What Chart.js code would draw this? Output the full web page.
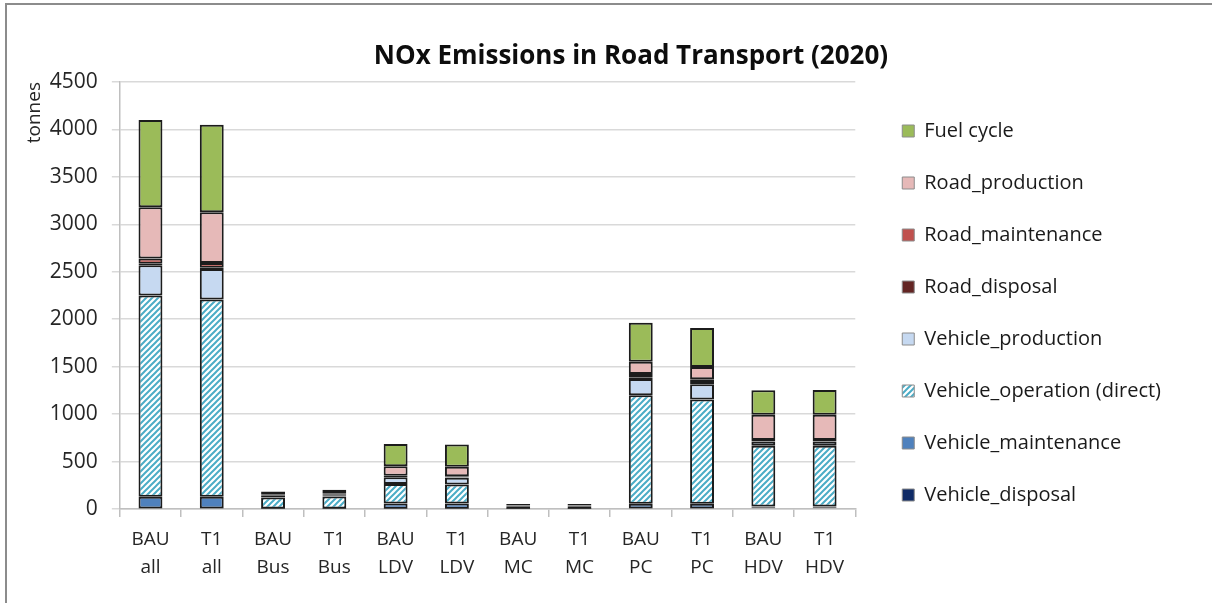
<!DOCTYPE html>
<html>
<head>
<meta charset="utf-8">
<title>NOx Emissions in Road Transport (2020)</title>
<script src="https://cdn.jsdelivr.net/npm/chart.js@4.4.1/dist/chart.umd.min.js"></script>
<style>
  html, body { margin: 0; padding: 0; background: #fff; }
  #wrap { position: relative; width: 1212px; height: 603px; overflow: hidden; }
  #frame {
    position: absolute; left: 5px; top: 3px; right: -4px; bottom: -4px;
    border-left: 2px solid #8c8c8c; border-top: 2px solid #8c8c8c;
    pointer-events: none;
  }
</style>
</head>
<body>
<div id="wrap">
  <canvas id="chart" width="1212" height="603"></canvas>
  <div id="frame"></div>
</div>
<script>
const chartTitle = 'NOx Emissions in Road Transport (2020)';
const unitLabel = 'tonnes';

// scenario / vehicle group pairs along the x axis
const categories = [
  ['BAU', 'all'], ['T1', 'all'],
  ['BAU', 'Bus'], ['T1', 'Bus'],
  ['BAU', 'LDV'], ['T1', 'LDV'],
  ['BAU', 'MC'], ['T1', 'MC'],
  ['BAU', 'PC'], ['T1', 'PC'],
  ['BAU', 'HDV'], ['T1', 'HDV']
];

// tonnes NOx per life-cycle stage, stacked bottom to top
const vehicleDisposal    = [5, 5, 1, 1, 3, 3, 1, 1, 5, 5, 12, 12];
const vehicleMaintenance = [125, 125, 5, 5, 55, 55, 2, 2, 50, 50, 15, 15];
const vehicleOperation   = [2120, 2077, 115, 125, 205, 200, 25, 25, 1145, 1100, 640, 640];
const vehicleProduction  = [320, 323, 15, 15, 72, 72, 8, 8, 170, 160, 45, 45];
const roadDisposal       = [15, 13, 1, 1, 3, 3, 0.5, 0.5, 12, 12, 5, 5];
const roadMaintenance    = [55, 50, 2, 2, 12, 12, 1, 1, 40, 40, 10, 10];
const roadProduction     = [540, 535, 10, 12, 100, 100, 5, 5, 130, 130, 265, 265];
const fuelCycle          = [920, 922, 35, 42, 235, 235, 10, 10, 410, 410, 260, 262];

const yMax = 4500;
const yStep = 500;

const fontFamily = '"Open Sans", Lato, sans-serif';
Chart.defaults.font.family = fontFamily;
Chart.defaults.color = '#262626';

// white tile with diagonal aqua stripes for the direct operation stage
function hatchPattern(color) {
  const tile = document.createElement('canvas');
  tile.width = 6;
  tile.height = 6;
  const g = tile.getContext('2d');
  g.fillStyle = '#ffffff';
  g.fillRect(0, 0, 6, 6);
  g.strokeStyle = color;
  g.lineWidth = 2;
  g.beginPath();
  g.moveTo(0, 6); g.lineTo(6, 0);
  g.moveTo(-1, 1); g.lineTo(1, -1);
  g.moveTo(5, 7); g.lineTo(7, 5);
  g.stroke();
  return g.createPattern(tile, 'repeat');
}

function stage(label, data, fill) {
  return {
    label: label,
    data: data,
    backgroundColor: fill,
    borderColor: '#1c1c1c',
    borderWidth: 2,
    borderSkipped: false,
    barPercentage: 0.39,
    categoryPercentage: 1.0
  };
}

const datasets = [
  stage('Vehicle_disposal', vehicleDisposal, '#0f2a66'),
  stage('Vehicle_maintenance', vehicleMaintenance, '#4f81bd'),
  stage('Vehicle_operation (direct)', vehicleOperation, hatchPattern('#4bacc6')),
  stage('Vehicle_production', vehicleProduction, '#c6d9f1'),
  stage('Road_disposal', roadDisposal, '#632523'),
  stage('Road_maintenance', roadMaintenance, '#c0504d'),
  stage('Road_production', roadProduction, '#e6b9b8'),
  stage('Fuel cycle', fuelCycle, '#9bbb59')
];

// chart heading, centred a little right of the canvas middle
const headline = {
  id: 'headline',
  afterDraw(chart) {
    const ctx = chart.ctx;
    ctx.save();
    ctx.font = 'bold 26px ' + fontFamily;
    ctx.fillStyle = '#0d0d0d';
    ctx.textAlign = 'center';
    ctx.textBaseline = 'alphabetic';
    ctx.fillText(chartTitle, 631, 64);
    ctx.restore();
  }
};

// wider gap between the plot and the legend column, legend nudged down
const legendGap = {
  id: 'legendGap',
  afterLayout(chart) {
    const lg = chart.legend;
    lg.left += 15;
    lg.right += 15;
    lg.top += 7;
    lg.bottom += 7;
  }
};

const yTickPadding = 14;

new Chart(document.getElementById('chart'), {
  type: 'bar',
  data: { labels: categories, datasets: datasets },
  plugins: [headline, legendGap],
  options: {
    responsive: false,
    animation: false,
    layout: { padding: { top: 82, bottom: 13, left: 23, right: 56 } },
    plugins: {
      title: { display: false },
      tooltip: { enabled: false },
      legend: {
        position: 'right',
        align: 'start',
        reverse: true,
        maxWidth: 340,
        labels: {
          boxWidth: 12,
          boxHeight: 12,
          padding: 32,
          color: '#1a1a1a',
          font: { size: 20 },
          generateLabels(chart) {
            const items = Chart.defaults.plugins.legend.labels.generateLabels(chart);
            items.forEach(item => {
              item.strokeStyle = '#8c8c8c';
              item.lineWidth = 1;
            });
            return items;
          }
        }
      }
    },
    scales: {
      x: {
        stacked: true,
        grid: {
          drawOnChartArea: false,
          drawTicks: true,
          tickLength: 8,
          color: '#bfbfbf',
          lineWidth: 1.5
        },
        border: { color: '#bfbfbf', width: 1.5 },
        ticks: {
          padding: 8,
          color: '#262626',
          font: { size: 19, lineHeight: 1.5 },
          maxRotation: 0,
          autoSkip: false
        }
      },
      y: {
        stacked: true,
        min: 0,
        max: yMax,
        // tick padding is only needed once, between the labels and the tick marks
        afterFit(scale) { scale.width -= yTickPadding; },
        title: {
          display: true,
          text: unitLabel,
          align: 'end',
          color: '#262626',
          font: { size: 19 },
          padding: { top: 0, bottom: 4 }
        },
        grid: {
          color: '#d9d9d9',
          lineWidth: 1.5,
          tickLength: 8
        },
        border: { color: '#bfbfbf', width: 1.5 },
        ticks: {
          stepSize: yStep,
          padding: yTickPadding,
          color: '#262626',
          font: { size: 21 },
          callback: value => String(value)
        }
      }
    }
  }
});
</script>
</body>
</html>
